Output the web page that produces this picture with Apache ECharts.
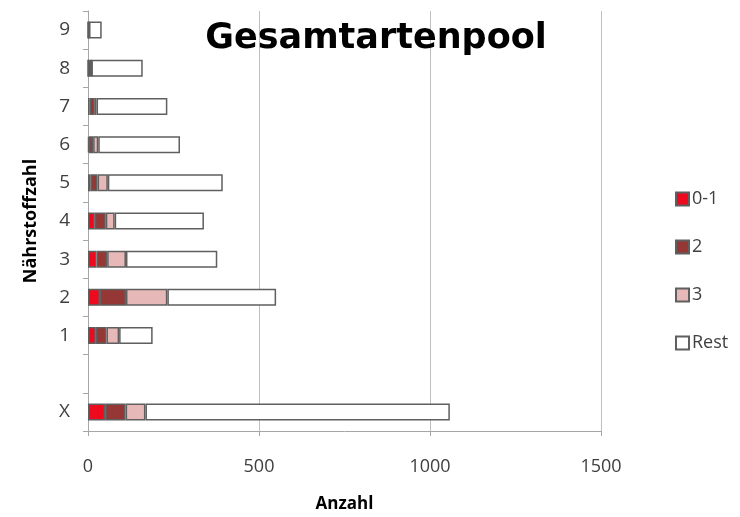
<!DOCTYPE html>
<html>
<head>
<meta charset="utf-8">
<script src="https://cdn.jsdelivr.net/npm/echarts@6/dist/echarts.min.js"></script>
<style>html,body{margin:0;padding:0;background:#fff}#c{width:740px;height:517px}</style>
</head>
<body>
<div id="c"></div>
<script>
var categories = ['X', '', '1', '2', '3', '4', '5', '6', '7', '8', '9'];
var seriesNames = ['0-1', '2', '3', 'Rest'];
var v01  = [50, null, 23, 35, 25, 20, 8, 3, 5, 0, 0];
var v2   = [60, null, 31, 76, 31, 32, 20, 12, 15, 10, 3];
var v3   = [58, null, 37, 121, 55, 26, 30, 15, 5, 0, 0];
var vRest= [890, null, 98, 318, 267, 261, 336, 239, 207, 150, 37];
var xTicks = [0, 500, 1000, 1500];

var colors = ['#EE0A1E', '#953735', '#E6B9B8', '#FFFFFF'];
var values = [v01, v2, v3, vRest];
var FONT = '"Open Sans", "Liberation Sans", Arial, sans-serif';

var chart = echarts.init(document.getElementById('c'), null, {renderer: 'canvas'});
var series = seriesNames.map(function (n, i) {
  return {
    name: n, type: 'bar', stack: 'all', barWidth: 17,
    data: values[i],
    itemStyle: {color: colors[i], borderColor: '#5f5f5f', borderWidth: 1.5},
    emphasis: {disabled: true}
  };
});
chart.setOption({
  animation: false,
  title: {
    text: 'Gesamtartenpool', left: 371, top: 16, textAlign: 'center',
    textStyle: {fontFamily: '"DejaVu Sans", sans-serif', fontWeight: 'bold', fontSize: 35, color: '#000'}
  },
  legend: {
    orient: 'vertical', left: 670, top: 185, itemWidth: 13, itemHeight: 13, itemGap: 30,
    data: seriesNames, icon: 'rect',
    textStyle: {fontFamily: FONT, fontSize: 18, color: '#404040', padding: [0, 0, 0, -2]}
  },
  grid: {left: 88, right: 139, top: 11, bottom: 86, containLabel: false, outerBoundsMode: 'none'},
  xAxis: {
    type: 'value', min: xTicks[0], max: xTicks[xTicks.length - 1], interval: 500,
    name: 'Anzahl', nameLocation: 'middle', nameGap: 65,
    nameTextStyle: {fontFamily: FONT, fontWeight: 'bold', fontSize: 17, color: '#000'},
    axisLine: {show: true, lineStyle: {color: '#a6a6a6', width: 1}},
    axisTick: {show: true, length: 5, lineStyle: {color: '#a6a6a6'}},
    axisLabel: {fontFamily: FONT, fontSize: 18, color: '#404040', margin: 27,
      formatter: function (v) { return String(v); }},
    splitLine: {show: true, lineStyle: {color: '#bfbfbf', width: 1}}
  },
  yAxis: {
    type: 'category', data: categories,
    name: 'Nährstoffzahl', nameLocation: 'middle', nameGap: 48, nameRotate: 90,
    nameTextStyle: {fontFamily: FONT, fontWeight: 'bold', fontSize: 18, color: '#000'},
    axisLine: {show: true, lineStyle: {color: '#a6a6a6', width: 1}},
    axisTick: {show: true, length: 5, alignWithLabel: false, lineStyle: {color: '#a6a6a6'}},
    axisLabel: {fontFamily: FONT, fontSize: 19, color: '#404040', margin: 18},
    splitLine: {show: false}
  },
  series: series
});
</script>
</body>
</html>
